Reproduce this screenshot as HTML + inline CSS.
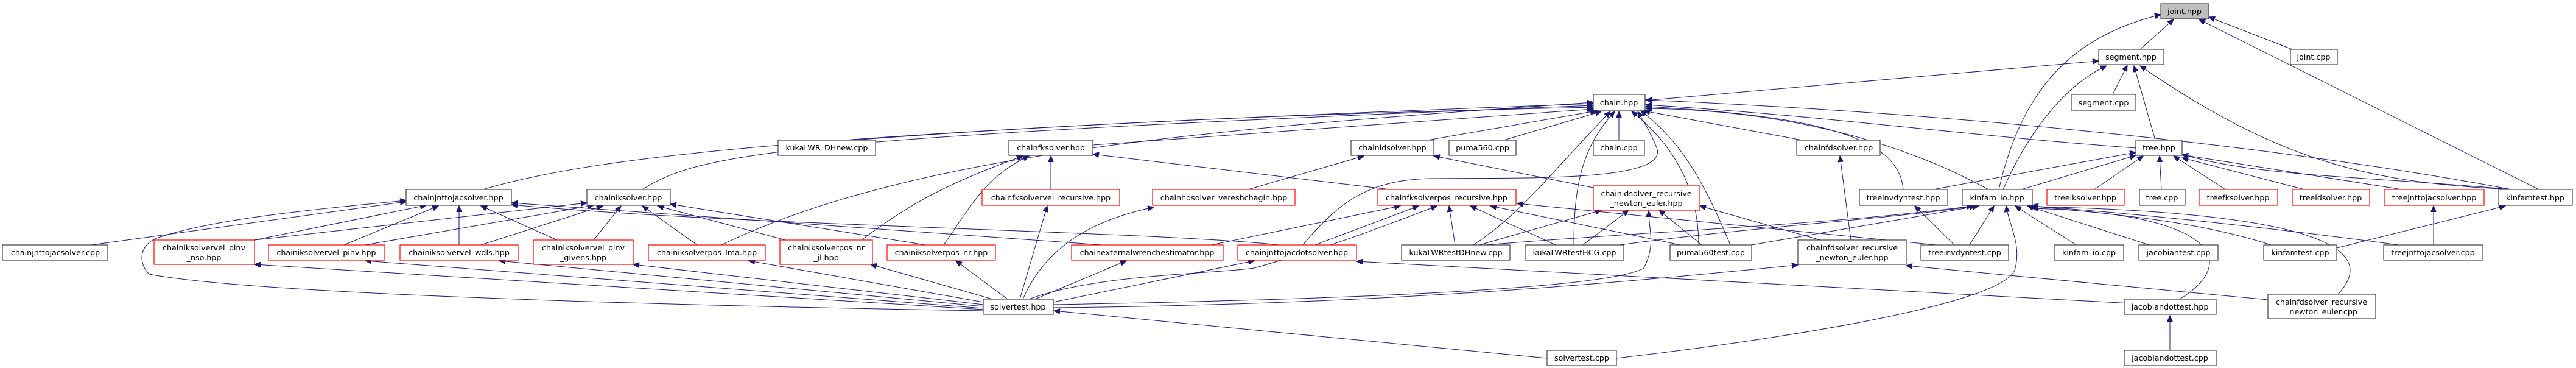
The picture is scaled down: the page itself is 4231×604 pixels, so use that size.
<!DOCTYPE html>
<html><head><meta charset="utf-8"><style>
html,body{margin:0;padding:0;background:#fff;}
svg{display:block;}
text{font-family:"DejaVu Sans","Liberation Sans",sans-serif;font-size:12.7px;fill:#000;text-anchor:middle;}
.n{fill:#fff;stroke:#404040;stroke-width:1.2;}
.r{fill:#fff;stroke:#ff0000;stroke-width:1.2;}
.e{fill:none;stroke:#191970;stroke-width:1;}
</style></head><body>
<svg width="4231" height="604" viewBox="0 0 4231 604" xmlns="http://www.w3.org/2000/svg">
<defs><marker id="a" markerWidth="11" markerHeight="9" refX="10" refY="4.5" orient="auto" markerUnits="userSpaceOnUse"><path d="M0,0 L10,4.5 L0,9 z" fill="#191970" stroke="#191970"/></marker></defs>
<g class="e" marker-end="url(#a)">
<path d="M3515,81 L3570,32"/>
<path d="M3765,81 L3628,28"/>
<path d="M4170,311 L3612,32"/>
<path d="M3283,311 C3320,150 3400,60 3549,24"/>
<path d="M2702,165 L3447,100"/>
<path d="M3470,155 L3494,107"/>
<path d="M3540,230 L3505,108"/>
<path d="M3290,311 C3330,220 3390,140 3460,108"/>
<path d="M4125,311 C3900,300 3750,270 3515,108"/>
<path d="M793,311 C1000,250 1400,215 2617,170"/>
<path d="M1055,311 C1150,250 1300,225 2617,173"/>
<path d="M1400,230 C1800,200 2200,185 2617,176"/>
<path d="M1795,238 L2617,179"/>
<path d="M2345,230 L2622,182"/>
<path d="M2470,230 L2630,183"/>
<path d="M2659,230 L2659,183"/>
<path d="M2960,230 L2700,182"/>
<path d="M3508,243 C3200,220 3000,190 2703,172"/>
<path d="M3126,311 C3120,230 3000,190 2703,175"/>
<path d="M3266,311 C3100,220 2900,180 2703,178"/>
<path d="M4125,311 C3800,250 3300,190 2703,164"/>
<path d="M1185,402 C1500,250 2000,210 2617,168"/>
<path d="M2140,402 C2200,330 2250,295 2350,293 C2500,291 2750,300 2720,240 C2710,215 2700,200 2690,183"/>
<path d="M2420,402 C2500,350 2550,280 2645,183"/>
<path d="M2585,402 C2585,300 2600,240 2652,183"/>
<path d="M2790,402 C2790,300 2740,230 2680,183"/>
<path d="M2842,402 C2800,300 2760,230 2695,182"/>
<path d="M150,402 L667,331"/>
<path d="M418,394 L700,337"/>
<path d="M565,402 L720,338"/>
<path d="M754,402 L754,338"/>
<path d="M915,394 L790,338"/>
<path d="M1810,402 L840,333"/>
<path d="M2100,402 C1900,380 1200,370 840,336"/>
<path d="M1615,510 C1000,500 400,480 245,450 C225,430 230,400 260,390 C350,360 500,345 667,329"/>
<path d="M418,394 L964,333"/>
<path d="M600,402 L975,337"/>
<path d="M790,402 L990,338"/>
<path d="M975,394 L1020,338"/>
<path d="M1145,402 L1055,338"/>
<path d="M1290,394 L1080,338"/>
<path d="M1520,402 L1101,335"/>
<path d="M1726,311 L1726,256"/>
<path d="M1550,402 C1600,330 1620,290 1690,256"/>
<path d="M1415,394 C1500,330 1560,300 1680,256"/>
<path d="M2283,311 L1795,253"/>
<path d="M2050,311 L2240,256"/>
<path d="M2617,308 L2355,256"/>
<path d="M2160,402 L2330,338"/>
<path d="M1990,402 L2300,338"/>
<path d="M1690,491 C1800,450 1990,450 2060,440 C2200,400 2250,380 2360,338"/>
<path d="M2390,402 L2380,338"/>
<path d="M2555,402 L2415,338"/>
<path d="M2760,402 L2448,338"/>
<path d="M3180,402 L2492,334"/>
<path d="M2430,402 L2630,345"/>
<path d="M2600,402 L2675,345"/>
<path d="M2795,402 L2725,345"/>
<path d="M1730,500 C2300,490 2650,470 2700,440 C2720,400 2708,380 2708,346"/>
<path d="M2990,394 L2792,338"/>
<path d="M1675,491 L1720,338"/>
<path d="M1680,491 C1720,400 1800,360 1895,340"/>
<path d="M1700,491 L1850,428"/>
<path d="M1730,496 L2060,428"/>
<path d="M1655,491 L1570,428"/>
<path d="M1630,491 L1430,434"/>
<path d="M1615,496 L1230,428"/>
<path d="M1615,500 L1040,434"/>
<path d="M1615,503 L820,428"/>
<path d="M1615,506 L600,428"/>
<path d="M1615,508 L418,434"/>
<path d="M2541,588 L1731,510"/>
<path d="M3500,498 L2228,429"/>
<path d="M1730,505 C2300,500 2700,460 2953,435"/>
<path d="M3040,394 L3022,256"/>
<path d="M3725,492 L3131,436"/>
<path d="M2440,402 C2700,380 3000,370 3240,338"/>
<path d="M2660,402 C2900,370 3100,360 3245,338"/>
<path d="M2877,402 L3250,338"/>
<path d="M3235,402 L3275,338"/>
<path d="M3410,402 L3310,338"/>
<path d="M3530,402 L3330,338"/>
<path d="M3730,402 C3600,360 3450,350 3335,338"/>
<path d="M3940,402 C3700,370 3500,350 3338,338"/>
<path d="M2655,588 C2900,560 3300,500 3310,440 C3320,400 3300,370 3295,338"/>
<path d="M3580,491 C3680,430 3640,350 3338,342"/>
<path d="M3840,483 C3900,420 3850,350 3338,339"/>
<path d="M3210,402 L3145,338"/>
<path d="M3320,311 L3508,255"/>
<path d="M3175,311 L3508,250"/>
<path d="M3440,311 L3520,256"/>
<path d="M3550,311 L3547,256"/>
<path d="M3655,311 L3570,256"/>
<path d="M3785,311 L3584,259"/>
<path d="M3945,311 L3584,254"/>
<path d="M4125,311 C3900,290 3700,290 3584,253"/>
<path d="M3997,402 L3997,338"/>
<path d="M3838,407 L4115,338"/>
<path d="M3564,575 L3564,518"/>
</g>
<rect class="n" x="3549" y="6" width="79" height="25" style="fill:#bfbfbf"/><text x="3588" y="23">joint.hpp</text>
<rect class="n" x="3447" y="81" width="107" height="25"/><text x="3500" y="98">segment.hpp</text>
<rect class="n" x="3762" y="81" width="77" height="25"/><text x="3800" y="98">joint.cpp</text>
<rect class="n" x="2617" y="155" width="85" height="26"/><text x="2659" y="173">chain.hpp</text>
<rect class="n" x="3402" y="155" width="106" height="26"/><text x="3455" y="173">segment.cpp</text>

<rect class="n" x="1278" y="230" width="160" height="25"/><text x="1358" y="247">kukaLWR_DHnew.cpp</text>
<rect class="n" x="1657" y="230" width="138" height="25"/><text x="1726" y="247">chainfksolver.hpp</text>
<rect class="n" x="2219" y="230" width="136" height="25"/><text x="2287" y="247">chainidsolver.hpp</text>
<rect class="n" x="2380" y="230" width="110" height="25"/><text x="2435" y="247">puma560.cpp</text>
<rect class="n" x="2617" y="230" width="84" height="25"/><text x="2659" y="247">chain.cpp</text>
<rect class="n" x="2951" y="230" width="137" height="25"/><text x="3020" y="247">chainfdsolver.hpp</text>
<rect class="n" x="3508" y="230" width="76" height="25"/><text x="3546" y="247">tree.hpp</text>

<rect class="n" x="667" y="311" width="173" height="26"/><text x="753" y="329">chainjnttojacsolver.hpp</text>
<rect class="n" x="964" y="311" width="137" height="26"/><text x="1032" y="329">chainiksolver.hpp</text>
<rect class="r" x="1613" y="311" width="226" height="26"/><text x="1726" y="329">chainfksolvervel_recursive.hpp</text>
<rect class="r" x="1893" y="311" width="234" height="26"/><text x="2010" y="329">chainhdsolver_vereshchagin.hpp</text>
<rect class="r" x="2263" y="311" width="227" height="26"/><text x="2376" y="329">chainfksolverpos_recursive.hpp</text>
<rect class="r" x="2617" y="305" width="175" height="40"/><text x="2704" y="322">chainidsolver_recursive</text><text x="2704" y="338">_newton_euler.hpp</text>
<rect class="n" x="3054" y="311" width="145" height="26"/><text x="3126" y="329">treeinvdyntest.hpp</text>
<rect class="n" x="3223" y="311" width="115" height="26"/><text x="3280" y="329">kinfam_io.hpp</text>
<rect class="r" x="3362" y="311" width="127" height="26"/><text x="3425" y="329">treeiksolver.hpp</text>
<rect class="n" x="3514" y="311" width="75" height="26"/><text x="3551" y="329">tree.cpp</text>
<rect class="r" x="3612" y="311" width="129" height="26"/><text x="3676" y="329">treefksolver.hpp</text>
<rect class="r" x="3765" y="311" width="127" height="26"/><text x="3828" y="329">treeidsolver.hpp</text>
<rect class="r" x="3916" y="311" width="164" height="26"/><text x="3998" y="329">treejnttojacsolver.hpp</text>
<rect class="n" x="4104" y="311" width="121" height="26"/><text x="4164" y="329">kinfamtest.hpp</text>

<rect class="n" x="4" y="402" width="173" height="25"/><text x="91" y="419">chainjnttojacsolver.cpp</text>
<rect class="r" x="253" y="394" width="165" height="40"/><text x="335" y="411">chainiksolvervel_pinv</text><text x="335" y="427">_nso.hpp</text>
<rect class="r" x="441" y="402" width="191" height="25"/><text x="536" y="419">chainiksolvervel_pinv.hpp</text>
<rect class="r" x="657" y="402" width="194" height="25"/><text x="754" y="419">chainiksolvervel_wdls.hpp</text>
<rect class="r" x="876" y="394" width="164" height="40"/><text x="958" y="411">chainiksolvervel_pinv</text><text x="958" y="427">_givens.hpp</text>
<rect class="r" x="1065" y="402" width="192" height="25"/><text x="1161" y="419">chainiksolverpos_lma.hpp</text>
<rect class="r" x="1281" y="394" width="152" height="40"/><text x="1357" y="411">chainiksolverpos_nr</text><text x="1357" y="427">_jl.hpp</text>
<rect class="r" x="1457" y="402" width="178" height="25"/><text x="1546" y="419">chainiksolverpos_nr.hpp</text>
<rect class="r" x="1760" y="402" width="249" height="25"/><text x="1884" y="419">chainexternalwrenchestimator.hpp</text>
<rect class="r" x="2033" y="402" width="195" height="25"/><text x="2130" y="419">chainjnttojacdotsolver.hpp</text>
<rect class="n" x="2302" y="402" width="178" height="25"/><text x="2391" y="419">kukaLWRtestDHnew.cpp</text>
<rect class="n" x="2505" y="402" width="162" height="25"/><text x="2586" y="419">kukaLWRtestHCG.cpp</text>
<rect class="n" x="2743" y="402" width="134" height="25"/><text x="2810" y="419">puma560test.cpp</text>
<rect class="n" x="2953" y="394" width="178" height="40"/><text x="3042" y="411">chainfdsolver_recursive</text><text x="3042" y="427">_newton_euler.hpp</text>
<rect class="n" x="3155" y="402" width="144" height="25"/><text x="3227" y="419">treeinvdyntest.cpp</text>
<rect class="n" x="3374" y="402" width="114" height="25"/><text x="3431" y="419">kinfam_io.cpp</text>
<rect class="n" x="3513" y="402" width="130" height="25"/><text x="3578" y="419">jacobiantest.cpp</text>
<rect class="n" x="3718" y="402" width="120" height="25"/><text x="3778" y="419">kinfamtest.cpp</text>
<rect class="n" x="3915" y="402" width="163" height="25"/><text x="3996" y="419">treejnttojacsolver.cpp</text>

<rect class="n" x="1615" y="491" width="115" height="25"/><text x="1672" y="508">solvertest.hpp</text>
<rect class="n" x="3489" y="491" width="151" height="25"/><text x="3564" y="508">jacobiandottest.hpp</text>
<rect class="n" x="3725" y="483" width="177" height="40"/><text x="3813" y="500">chainfdsolver_recursive</text><text x="3813" y="516">_newton_euler.cpp</text>

<rect class="n" x="2541" y="575" width="114" height="25"/><text x="2598" y="592">solvertest.cpp</text>
<rect class="n" x="3489" y="575" width="151" height="25"/><text x="3564" y="592">jacobiandottest.cpp</text>
</svg>
</body></html>
